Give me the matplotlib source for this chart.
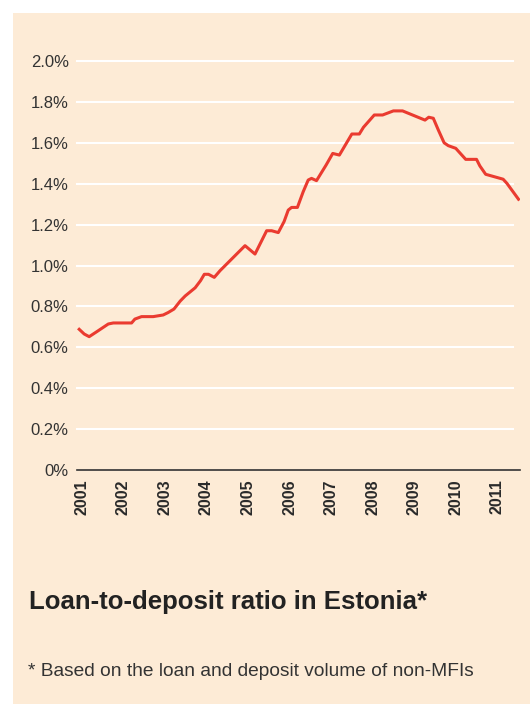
import matplotlib.pyplot as plt
from matplotlib.patches import Rectangle

# decimal year and ratio (%)
years = [2000.94, 2001.06, 2001.18, 2001.36, 2001.64, 2001.76, 2002.20, 2002.28,
         2002.44, 2002.72, 2002.96, 2003.08, 2003.22, 2003.37, 2003.49, 2003.73,
         2003.86, 2003.95, 2004.05, 2004.19, 2004.33, 2004.93, 2005.17, 2005.45,
         2005.57, 2005.73, 2005.87, 2005.97, 2006.05, 2006.19, 2006.33, 2006.45,
         2006.53, 2006.65, 2006.88, 2007.04, 2007.20, 2007.50, 2007.68, 2007.78,
         2008.04, 2008.24, 2008.50, 2008.72, 2009.26, 2009.35, 2009.46, 2009.58,
         2009.72, 2009.82, 2010.00, 2010.24, 2010.50, 2010.58, 2010.72, 2011.14,
         2011.23, 2011.51]
ratio = [0.688, 0.665, 0.652, 0.676, 0.714, 0.719, 0.719, 0.738,
         0.750, 0.750, 0.758, 0.770, 0.787, 0.826, 0.851, 0.891,
         0.926, 0.957, 0.957, 0.942, 0.975, 1.097, 1.056, 1.170,
         1.170, 1.161, 1.215, 1.271, 1.284, 1.284, 1.361, 1.418,
         1.426, 1.415, 1.491, 1.548, 1.540, 1.643, 1.643, 1.676,
         1.736, 1.736, 1.756, 1.756, 1.711, 1.725, 1.720, 1.663,
         1.600, 1.586, 1.573, 1.519, 1.519, 1.487, 1.446, 1.422,
         1.402, 1.324]
year_ticks = list(range(2001, 2012))
y_ticks = [0, 0.2, 0.4, 0.6, 0.8, 1.0, 1.2, 1.4, 1.6, 1.8, 2.0]
y_labels = ['0%', '0.2%', '0.4%', '0.6%', '0.8%', '1.0%', '1.2%', '1.4%', '1.6%', '1.8%', '2.0%']

bg = '#fdebd6'
W, H = 530, 704
fig = plt.figure(figsize=(W / 100, H / 100), dpi=100)
fig.patch.set_facecolor('white')
panel = Rectangle((13 / W, 0), 1 - 13 / W, 1 - 13 / H, transform=fig.transFigure,
                  facecolor=bg, edgecolor='none', zorder=-10)
fig.add_artist(panel)

left, right, top, bottom = 77, 520, 61, 470
ax = fig.add_axes([left / W, 1 - bottom / H, (right - left) / W, (bottom - top) / H])
ax.set_facecolor('none')
ax.set_zorder(1)

for v in y_ticks[1:]:
    ax.axhline(v, xmin=0, xmax=(513 - left) / (right - left), color='white', lw=1.5,
               zorder=1, clip_on=False)

ax.plot(years, ratio, color='#ea3b30', lw=2.2, zorder=3, solid_joinstyle='round')

ax.set_xlim(2000.887, 2011.546)
ax.set_ylim(0, 2.0)
for s in ['top', 'right', 'left']:
    ax.spines[s].set_visible(False)
ax.spines['bottom'].set_color('#333333')
ax.spines['bottom'].set_linewidth(1.2)

ax.set_yticks(y_ticks)
ax.set_yticklabels(y_labels, fontfamily='Liberation Sans', fontsize=12, color='#333333')
ax.set_xticks(year_ticks)
ax.set_xticklabels([str(y) for y in year_ticks], rotation=90, fontfamily='Liberation Sans',
                   fontsize=11.5, fontweight='bold', color='#2a2a2a')
ax.tick_params(axis='both', length=0)
ax.tick_params(axis='y', pad=6)
ax.tick_params(axis='x', pad=6.5)

fig.text(29 / W, 1 - 602 / H, 'Loan-to-deposit ratio in Estonia*', fontfamily='Liberation Sans',
         fontsize=18.5, fontweight='bold', color='#222222', va='center', ha='left')
fig.text(28 / W, 1 - 672 / H, '* Based on the loan and deposit volume of non-MFIs',
         fontfamily='Liberation Sans', fontsize=13.8, color='#333333', va='center', ha='left')

fig.savefig('out.png', dpi=100, facecolor=fig.get_facecolor())
